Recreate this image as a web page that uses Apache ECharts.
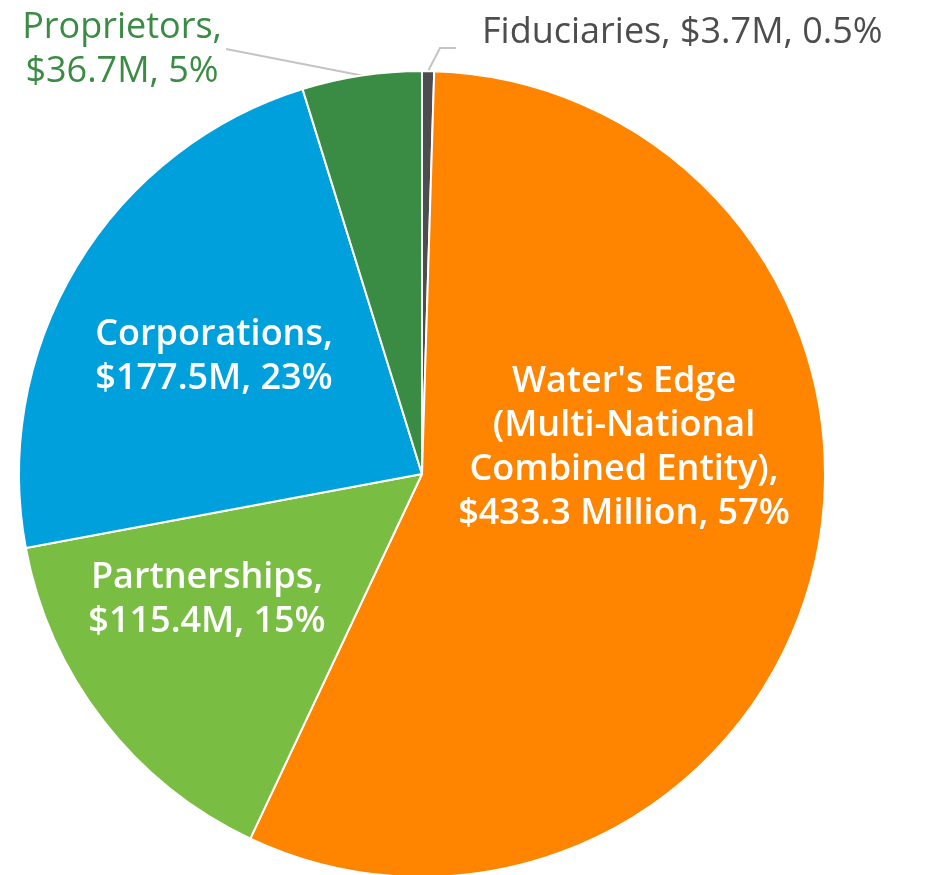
<!DOCTYPE html>
<html>
<head>
<meta charset="utf-8">
<script src="https://cdn.jsdelivr.net/npm/echarts@6/dist/echarts.min.js"></script>
<style>
  html, body { margin: 0; padding: 0; background: #fff; }
  #chart { width: 926px; height: 875px; }
</style>
</head>
<body>
<div id="chart"></div>
<script>
// slices clockwise from 12 o'clock
const categories = [
  "Fiduciaries",
  "Water's Edge\n(Multi-National\nCombined Entity)",
  "Partnerships",
  "Corporations",
  "Proprietors"
];
const amounts = [3.7, 433.3, 115.4, 177.5, 36.7];
const amountLabels = ["$3.7M", "$433.3 Million", "$115.4M", "$177.5M", "$36.7M"];
const shareLabels = ["0.5%", "57%", "15%", "23%", "5%"];
const colors = ["#4d4d4f", "#ff8500", "#79bd43", "#00a0dd", "#3a8b43"];

const FONT = "'Open Sans', sans-serif";
const CX = 422, CY = 474, R = 403;

// label anchor positions (centre of each text block)
const labelPos = {
  1: [624, 448],
  2: [207, 600],
  3: [214, 357]
};

const chart = echarts.init(document.getElementById("chart"));

const data = categories.map((name, i) => {
  const outside = i === 0 || i === 4;
  const sep = i === 0 ? " " : "\n";
  return {
    name: name,
    value: amounts[i],
    itemStyle: { color: colors[i] },
    label: {
      show: true,
      position: outside ? "outside" : "inside",
      formatter: name + "," + sep + amountLabels[i] + ", " + shareLabels[i],
      color: outside ? colors[i] : "#fff",
      fontWeight: outside ? 400 : 600,
      fontSize: 36,
      lineHeight: 44,
      fontFamily: FONT,
      align: "center"
    },
    labelLine: {
      show: outside,
      lineStyle: { color: "#c4c4c4", width: 2 }
    }
  };
});

chart.setOption({
  animation: false,
  series: [
    {
      type: "pie",
      center: [CX, CY],
      radius: [0, R],
      startAngle: 90,
      clockwise: true,
      avoidLabelOverlap: false,
      itemStyle: { borderColor: "#fff", borderWidth: 2 },
      data: data,
      labelLayout: function (params) {
        const i = params.dataIndex;
        if (labelPos[i]) {
          return { x: labelPos[i][0], y: labelPos[i][1], align: "center", verticalAlign: "middle" };
        }
        const p0 = params.labelLinePoints ? params.labelLinePoints[0] : [CX, CY - R];
        if (i === 0) {
          return {
            x: 482, y: 33, align: "left", verticalAlign: "middle",
            labelLinePoints: [p0, [440, 48], [456, 48]]
          };
        }
        return {
          x: 122, y: 50, align: "center", verticalAlign: "middle",
          labelLinePoints: [p0, [226, 49], [226, 49]]
        };
      }
    }
  ]
});
</script>
</body>
</html>
